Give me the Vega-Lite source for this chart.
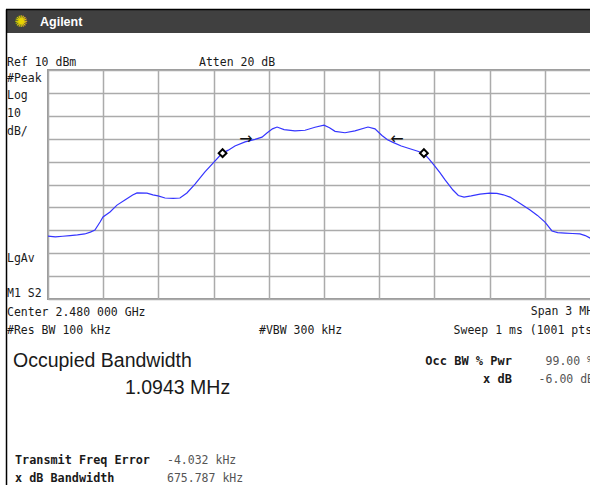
{
  "$schema": "https://vega.github.io/schema/vega-lite/v6.json",
  "width": 552,
  "height": 229,
  "autosize": {"type": "none"},
  "padding": {"left": 48, "top": 70, "right": 0, "bottom": 186},
  "background": "white",
  "config": {
    "view": {"stroke": "#9a9a9a", "strokeWidth": 2},
    "axis": {"labels": false, "ticks": false, "domain": false, "title": null, "grid": true, "gridColor": "#ababab", "gridWidth": 1.5},
    "text": {"font": "DejaVu Sans Mono", "fontSize": 11.5, "color": "#1a1a1a", "align": "left", "baseline": "alphabetic"}
  },
  "datasets": {
    "trace": [
      {"f": 2478.500, "dBm": -62.5}, {"f": 2478.540, "dBm": -62.9}, {"f": 2478.580, "dBm": -62.6},
      {"f": 2478.620, "dBm": -62.3}, {"f": 2478.660, "dBm": -62.0}, {"f": 2478.700, "dBm": -61.6},
      {"f": 2478.730, "dBm": -60.8}, {"f": 2478.755, "dBm": -59.9}, {"f": 2478.783, "dBm": -56.4},
      {"f": 2478.799, "dBm": -54.2}, {"f": 2478.837, "dBm": -52.0}, {"f": 2478.875, "dBm": -49.0},
      {"f": 2478.918, "dBm": -46.8}, {"f": 2478.960, "dBm": -44.6}, {"f": 2478.984, "dBm": -43.7},
      {"f": 2479.038, "dBm": -43.8}, {"f": 2479.070, "dBm": -44.5}, {"f": 2479.098, "dBm": -45.0},
      {"f": 2479.136, "dBm": -45.9}, {"f": 2479.180, "dBm": -46.1}, {"f": 2479.217, "dBm": -45.9},
      {"f": 2479.255, "dBm": -43.7}, {"f": 2479.299, "dBm": -39.8}, {"f": 2479.353, "dBm": -34.5},
      {"f": 2479.402, "dBm": -30.2}, {"f": 2479.446, "dBm": -26.4}, {"f": 2479.480, "dBm": -25.0},
      {"f": 2479.516, "dBm": -23.2}, {"f": 2479.571, "dBm": -21.4}, {"f": 2479.625, "dBm": -20.3},
      {"f": 2479.663, "dBm": -19.3}, {"f": 2479.690, "dBm": -17.5}, {"f": 2479.720, "dBm": -15.7},
      {"f": 2479.745, "dBm": -14.9}, {"f": 2479.783, "dBm": -16.0}, {"f": 2479.842, "dBm": -16.6},
      {"f": 2479.897, "dBm": -16.3}, {"f": 2479.951, "dBm": -15.0}, {"f": 2480.000, "dBm": -14.1},
      {"f": 2480.030, "dBm": -15.2}, {"f": 2480.060, "dBm": -16.8}, {"f": 2480.114, "dBm": -17.4},
      {"f": 2480.168, "dBm": -16.6}, {"f": 2480.239, "dBm": -14.9}, {"f": 2480.277, "dBm": -15.7},
      {"f": 2480.315, "dBm": -18.6}, {"f": 2480.345, "dBm": -20.5}, {"f": 2480.375, "dBm": -21.6},
      {"f": 2480.420, "dBm": -23.2}, {"f": 2480.467, "dBm": -24.4}, {"f": 2480.510, "dBm": -25.5},
      {"f": 2480.543, "dBm": -26.5}, {"f": 2480.570, "dBm": -28.8}, {"f": 2480.598, "dBm": -31.5},
      {"f": 2480.630, "dBm": -34.8}, {"f": 2480.658, "dBm": -38.0}, {"f": 2480.701, "dBm": -42.4},
      {"f": 2480.730, "dBm": -44.8}, {"f": 2480.761, "dBm": -45.5}, {"f": 2480.800, "dBm": -45.0},
      {"f": 2480.848, "dBm": -44.2}, {"f": 2480.900, "dBm": -43.8}, {"f": 2480.940, "dBm": -43.9},
      {"f": 2480.975, "dBm": -44.5}, {"f": 2481.011, "dBm": -45.5}, {"f": 2481.060, "dBm": -48.0},
      {"f": 2481.120, "dBm": -51.1}, {"f": 2481.160, "dBm": -53.5}, {"f": 2481.201, "dBm": -56.4},
      {"f": 2481.239, "dBm": -60.3}, {"f": 2481.270, "dBm": -61.0}, {"f": 2481.310, "dBm": -61.2},
      {"f": 2481.350, "dBm": -61.4}, {"f": 2481.391, "dBm": -61.6}, {"f": 2481.420, "dBm": -62.3},
      {"f": 2481.446, "dBm": -63.4}, {"f": 2481.500, "dBm": -63.5}
    ],
    "markers": [
      {"f": 2479.4487, "dBm": -26.3},
      {"f": 2480.5430, "dBm": -26.3}
    ],
    "arrows": [
      {"f": 2479.576, "dBm": -20.1, "sym": "→"},
      {"f": 2480.397, "dBm": -20.1, "sym": "←"}
    ],
    "one": [{}]
  },
  "layer": [
    {
      "data": {"name": "trace"},
      "mark": {"type": "line", "color": "#3535ff", "strokeWidth": 1.2, "clip": true},
      "encoding": {
        "x": {"field": "f", "type": "quantitative",
              "scale": {"domain": [2478.5, 2481.5], "nice": false, "zero": false},
              "axis": {"values": [2478.5, 2478.8, 2479.1, 2479.4, 2479.7, 2480.0, 2480.3, 2480.6, 2480.9, 2481.2, 2481.5], "tickCount": 30}},
        "y": {"field": "dBm", "type": "quantitative",
              "scale": {"domain": [-90, 10], "nice": false, "zero": false},
              "axis": {"values": [-90, -80, -70, -60, -50, -40, -30, -20, -10, 0, 10], "tickCount": 30}}
      }
    },
    {
      "data": {"name": "one"},
      "mark": {"type": "rect", "fill": "#404040"},
      "encoding": {
        "x": {"datum": 2478.2717, "type": "quantitative"},
        "x2": {"datum": 2481.6},
        "y": {"datum": 36.42, "type": "quantitative"},
        "y2": {"datum": 26.157}
      }
    },
    {
      "data": {"name": "one"},
      "mark": {"type": "rule", "color": "#000000", "strokeWidth": 1.5},
      "encoding": {
        "x": {"datum": 2478.2717},
        "x2": {"datum": 2481.6},
        "y": {"datum": 36.42}
      }
    },
    {
      "data": {"name": "one"},
      "mark": {"type": "rule", "color": "#000000", "strokeWidth": 1.5},
      "encoding": {
        "x": {"datum": 2478.2745},
        "y": {"datum": 36.42},
        "y2": {"datum": -175}
      }
    },
    {
      "data": {"name": "markers"},
      "mark": {"type": "point", "shape": "diamond", "filled": true, "fill": "white", "stroke": "black", "strokeWidth": 2, "size": 60, "opacity": 1},
      "encoding": {
        "x": {"field": "f", "type": "quantitative"},
        "y": {"field": "dBm", "type": "quantitative"}
      }
    },
    {
      "data": {"name": "arrows"},
      "mark": {"type": "text", "font": "DejaVu Sans", "fontSize": 16, "align": "center", "baseline": "middle", "color": "#111111"},
      "encoding": {
        "x": {"field": "f", "type": "quantitative"},
        "y": {"field": "dBm", "type": "quantitative"},
        "text": {"field": "sym"}
      }
    },
    {"data": {"name": "one"}, "mark": {"type": "text", "text": "✺", "font": "DejaVu Sans", "fontSize": 16, "align": "center", "baseline": "middle", "color": "#e8d400"},
     "encoding": {"x": {"datum": 2478.3533}, "y": {"datum": 30.96}}},
    {"data": {"name": "one"}, "mark": {"type": "text", "text": "Agilent", "font": "Liberation Sans", "fontWeight": "bold", "fontSize": 12.5, "color": "white"},
     "encoding": {"x": {"datum": 2478.4565}, "y": {"datum": 29.21}}},
    {"data": {"name": "one"}, "mark": {"type": "text", "text": "Ref 10 dBm"},
     "encoding": {"x": {"datum": 2478.2772}, "y": {"datum": 11.965}}},
    {"data": {"name": "one"}, "mark": {"type": "text", "text": "Atten 20 dB"},
     "encoding": {"x": {"datum": 2479.3207}, "y": {"datum": 11.965}}},
    {"data": {"name": "one"}, "mark": {"type": "text", "text": "#Peak"},
     "encoding": {"x": {"datum": 2478.2772}, "y": {"datum": 4.76}}},
    {"data": {"name": "one"}, "mark": {"type": "text", "text": "Log"},
     "encoding": {"x": {"datum": 2478.2772}, "y": {"datum": -2.664}}},
    {"data": {"name": "one"}, "mark": {"type": "text", "text": "10"},
     "encoding": {"x": {"datum": 2478.2772}, "y": {"datum": -10.524}}},
    {"data": {"name": "one"}, "mark": {"type": "text", "text": "dB/"},
     "encoding": {"x": {"datum": 2478.2772}, "y": {"datum": -18.384}}},
    {"data": {"name": "one"}, "mark": {"type": "text", "text": "LgAv"},
     "encoding": {"x": {"datum": 2478.2772}, "y": {"datum": -73.843}}},
    {"data": {"name": "one"}, "mark": {"type": "text", "text": "M1  S2"},
     "encoding": {"x": {"datum": 2478.2772}, "y": {"datum": -89.127}}},
    {"data": {"name": "one"}, "mark": {"type": "text", "text": "Center 2.480 000 GHz"},
     "encoding": {"x": {"datum": 2478.2772}, "y": {"datum": -97.424}}},
    {"data": {"name": "one"}, "mark": {"type": "text", "text": "Span 3 MHz", "align": "right"},
     "encoding": {"x": {"datum": 2481.5}, "y": {"datum": -96.987}}},
    {"data": {"name": "one"}, "mark": {"type": "text", "text": "#Res BW 100 kHz"},
     "encoding": {"x": {"datum": 2478.2772}, "y": {"datum": -105.284}}},
    {"data": {"name": "one"}, "mark": {"type": "text", "text": "#VBW 300 kHz"},
     "encoding": {"x": {"datum": 2479.6467}, "y": {"datum": -105.284}}},
    {"data": {"name": "one"}, "mark": {"type": "text", "text": "Sweep 1 ms (1001 pts)", "align": "right"},
     "encoding": {"x": {"datum": 2481.4946}, "y": {"datum": -105.284}}},
    {"data": {"name": "one"}, "mark": {"type": "text", "text": "Occupied Bandwidth", "font": "Liberation Sans", "fontSize": 19.5},
     "encoding": {"x": {"datum": 2478.3098}, "y": {"datum": -119.694}}},
    {"data": {"name": "one"}, "mark": {"type": "text", "text": "1.0943 MHz", "font": "Liberation Sans", "fontSize": 19.5},
     "encoding": {"x": {"datum": 2478.9185}, "y": {"datum": -131.485}}},
    {"data": {"name": "one"}, "mark": {"type": "text", "text": "Occ BW % Pwr", "align": "right", "fontWeight": "bold", "fontSize": 12},
     "encoding": {"x": {"datum": 2481.0217}, "y": {"datum": -118.821}}},
    {"data": {"name": "one"}, "mark": {"type": "text", "text": "99.00 %", "align": "right", "color": "#555555"},
     "encoding": {"x": {"datum": 2481.4674}, "y": {"datum": -118.821}}},
    {"data": {"name": "one"}, "mark": {"type": "text", "text": "x dB", "align": "right", "fontWeight": "bold", "fontSize": 12},
     "encoding": {"x": {"datum": 2481.0217}, "y": {"datum": -126.681}}},
    {"data": {"name": "one"}, "mark": {"type": "text", "text": "-6.00 dB", "align": "right", "color": "#555555"},
     "encoding": {"x": {"datum": 2481.4674}, "y": {"datum": -126.681}}},
    {"data": {"name": "one"}, "mark": {"type": "text", "text": "Transmit Freq Error", "fontWeight": "bold", "fontSize": 11.8},
     "encoding": {"x": {"datum": 2478.3207}, "y": {"datum": -162.052}}},
    {"data": {"name": "one"}, "mark": {"type": "text", "text": "-4.032 kHz", "color": "#555555"},
     "encoding": {"x": {"datum": 2479.1467}, "y": {"datum": -162.052}}},
    {"data": {"name": "one"}, "mark": {"type": "text", "text": "x dB Bandwidth", "fontWeight": "bold", "fontSize": 11.8},
     "encoding": {"x": {"datum": 2478.3207}, "y": {"datum": -169.913}}},
    {"data": {"name": "one"}, "mark": {"type": "text", "text": "675.787 kHz", "color": "#555555"},
     "encoding": {"x": {"datum": 2479.1467}, "y": {"datum": -169.913}}}
  ]
}
